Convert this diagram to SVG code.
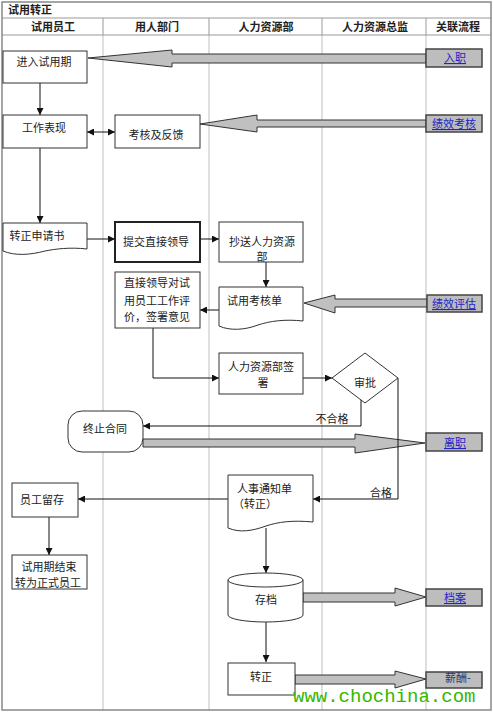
<svg xmlns="http://www.w3.org/2000/svg" width="493" height="712" viewBox="0 0 493 712">
<defs>
<style>
.t{font-family:"Noto Sans CJK SC","Liberation Sans",sans-serif;font-size:11px;fill:#222}
.h{font-family:"Noto Sans CJK SC","Liberation Sans",sans-serif;font-size:11px;font-weight:bold;fill:#222}
.box{fill:#fff;stroke:#333;stroke-width:1}
.conn{fill:none;stroke:#111;stroke-width:1}
.block{fill:#c0c0c0;stroke:#333;stroke-width:1}
.rel{fill:#bdbdbd;stroke:#444;stroke-width:1.5}
.lnk{font-family:"Noto Sans CJK SC","Liberation Sans",sans-serif;font-size:11px;fill:#2323c8;text-decoration:underline}
.lane{stroke:#d4d4d4;stroke-width:1.5}
.hl{stroke:#999;stroke-width:1}
</style>
<marker id="ah" viewBox="0 0 8 8" refX="8" refY="4" markerWidth="7" markerHeight="7" markerUnits="userSpaceOnUse" orient="auto-start-reverse">
<path d="M0,0 L8,4 L0,8 Z" fill="#111"/>
</marker>
</defs>
<rect x="0" y="0" width="493" height="712" fill="#fff"/>

<g id="frame">
<line class="lane" x1="103" y1="35" x2="103" y2="710"/>
<line class="lane" x1="209" y1="35" x2="209" y2="710"/>
<line class="lane" x1="322" y1="35" x2="322" y2="710"/>
<line class="lane" x1="426" y1="35" x2="426" y2="710"/>
<line class="hl" x1="103" y1="18" x2="103" y2="35"/>
<line class="hl" x1="209" y1="18" x2="209" y2="35"/>
<line class="hl" x1="322" y1="18" x2="322" y2="35"/>
<line class="hl" x1="426" y1="18" x2="426" y2="35"/>
<line class="hl" x1="2" y1="18" x2="491" y2="18"/>
<line class="hl" x1="2" y1="35" x2="491" y2="35"/>
<rect x="2" y="2" width="489" height="708" fill="none" stroke="#888" stroke-width="1.5"/>
<text class="h" x="8" y="14">试用转正</text>
<text class="h" x="53" y="31" text-anchor="middle">试用员工</text>
<text class="h" x="157" y="31" text-anchor="middle">用人部门</text>
<text class="h" x="266" y="31" text-anchor="middle">人力资源部</text>
<text class="h" x="375" y="31" text-anchor="middle">人力资源总监</text>
<text class="h" x="458" y="31" text-anchor="middle">关联流程</text>
</g>

<g id="connectors">
<polygon class="block" points="426,54 172,54 172,50 88,58 172,67 172,63 426,63"/>
<polygon class="block" points="426,120 257,120 257,115 200,124 257,132 257,127 426,127"/>
<polygon class="block" points="427,299 335,299 335,295 304,303 335,313 335,307 427,307"/>
<polygon class="block" points="143,439 355,439 355,434 425,443 355,453 355,447 143,447"/>
<polygon class="block" points="303,593 395,593 395,588 426,597 395,606 395,602 303,602"/>
<polygon class="block" points="295,675 395,675 395,671 426,679 395,688 395,684 295,684"/>
<path class="conn" d="M40,83 V115" marker-end="url(#ah)"/>
<path class="conn" d="M87,132 H115" marker-start="url(#ah)" marker-end="url(#ah)"/>
<path class="conn" d="M40,148 V223" marker-end="url(#ah)"/>
<path class="conn" d="M87,239 H115" marker-end="url(#ah)"/>
<path class="conn" d="M200,239 H219" marker-end="url(#ah)"/>
<path class="conn" d="M266,262 V287" marker-end="url(#ah)"/>
<path class="conn" d="M219,310 H200" marker-end="url(#ah)"/>
<path class="conn" d="M153,328 V378 H219" marker-end="url(#ah)"/>
<path class="conn" d="M303,378 H332" marker-end="url(#ah)"/>
<path class="conn" d="M361,400 V426 H143" marker-end="url(#ah)"/>
<path class="conn" d="M398,378 V499 H313" marker-end="url(#ah)"/>
<path class="conn" d="M228,499 H78" marker-end="url(#ah)"/>
<path class="conn" d="M49,517 V555" marker-end="url(#ah)"/>
<path class="conn" d="M266,528 V573" marker-end="url(#ah)"/>
<path class="conn" d="M266,622 V662" marker-end="url(#ah)"/>
<text class="t" x="332" y="423" text-anchor="middle">不合格</text>
<text class="t" x="381" y="497" text-anchor="middle">合格</text>
</g>

<g id="n-enter">
<rect class="box" x="3" y="51" width="84" height="32"/>
<text class="t" x="44" y="66" text-anchor="middle">进入试用期</text>
</g>
<g id="n-perf">
<rect class="box" x="3" y="115" width="84" height="33"/>
<text class="t" x="44" y="132" text-anchor="middle">工作表现</text>
</g>
<g id="n-review">
<rect class="box" x="115" y="115" width="85" height="33"/>
<text class="t" x="156" y="139" text-anchor="middle">考核及反馈</text>
</g>
<g id="n-apply">
<path class="box" d="M3,223 H87 V249 C70,247 55,249 45,251 C30,255 15,256 3,251 Z"/>
<text class="t" x="37" y="240" text-anchor="middle">转正申请书</text>
</g>
<g id="n-submit">
<rect x="115" y="222" width="85" height="40" fill="#fff" stroke="#222" stroke-width="2"/>
<text class="t" x="156" y="246" text-anchor="middle">提交直接领导</text>
</g>
<g id="n-copy">
<rect class="box" x="219" y="222" width="84" height="40"/>
<text class="t" x="262" y="246" text-anchor="middle">抄送人力资源</text>
<text class="t" x="262" y="261" text-anchor="middle">部</text>
</g>
<g id="n-form">
<path class="box" d="M219,287 H303 V321 C285,319 270,321 258,325 C245,330 230,331 219,326 Z"/>
<text class="t" x="227" y="305">试用考核单</text>
</g>
<g id="n-leader">
<rect class="box" x="115" y="272" width="85" height="56"/>
<text class="t" x="157" y="287" text-anchor="middle">直接领导对试</text>
<text class="t" x="157" y="305" text-anchor="middle">用员工工作评</text>
<text class="t" x="157" y="321" text-anchor="middle">价，签署意见</text>
</g>
<g id="n-hrsign">
<rect class="box" x="219" y="353" width="84" height="41"/>
<text class="t" x="261" y="371" text-anchor="middle">人力资源部签</text>
<text class="t" x="263" y="387" text-anchor="middle">署</text>
</g>
<g id="n-approve">
<polygon class="box" points="365,353 398,378 365,403 332,378"/>
<text class="t" x="365" y="387" text-anchor="middle">审批</text>
</g>
<g id="n-terminate">
<rect class="box" x="68" y="411" width="75" height="41" rx="14" ry="14"/>
<text class="t" x="105" y="433" text-anchor="middle">终止合同</text>
</g>
<g id="n-notice">
<path class="box" d="M228,475 H313 V522 C292,520 278,522 266,526 C252,531 240,533 228,528 Z"/>
<text class="t" x="237" y="493">人事通知单</text>
<text class="t" x="233" y="508">（转正）</text>
</g>
<g id="n-keep">
<rect class="box" x="12" y="483" width="66" height="34"/>
<text class="t" x="20" y="504">员工留存</text>
</g>
<g id="n-end">
<rect class="box" x="12" y="555" width="75" height="34"/>
<text class="t" x="49" y="571" text-anchor="middle">试用期结束</text>
<text class="t" x="48" y="587" text-anchor="middle">转为正式员工</text>
</g>
<g id="n-archive">
<path class="box" d="M228,580 A37.5,7 0 0 1 303,580 V615 A37.5,7 0 0 1 228,615 Z"/>
<path class="box" d="M228,580 A37.5,7 0 0 0 303,580" fill="none"/>
<text class="t" x="266" y="604" text-anchor="middle">存档</text>
</g>
<g id="n-regular">
<rect class="box" x="228" y="663" width="67" height="32"/>
<text class="t" x="261" y="681" text-anchor="middle">转正</text>
</g>

<g id="r-entry">
<rect class="rel" x="426" y="49" width="56" height="18"/>
<text class="lnk" x="455" y="62" text-anchor="middle">入职</text>
</g>
<g id="r-perfcheck">
<rect class="rel" x="426" y="115" width="56" height="17"/>
<text class="lnk" x="454" y="128" text-anchor="middle">绩效考核</text>
</g>
<g id="r-perfeval">
<rect class="rel" x="427" y="295" width="55" height="17"/>
<text class="lnk" x="454" y="308" text-anchor="middle">绩效评估</text>
</g>
<g id="r-leave">
<rect class="rel" x="426" y="433" width="56" height="18"/>
<text class="lnk" x="455" y="447" text-anchor="middle">离职</text>
</g>
<g id="r-file">
<rect class="rel" x="426" y="589" width="56" height="17"/>
<text class="lnk" x="455" y="602" text-anchor="middle">档案</text>
</g>
<g id="r-salary">
<rect class="rel" x="426" y="672" width="56" height="16"/>
<text class="t" x="458" y="682" text-anchor="middle" style="fill:#34346a">薪酬-</text>
</g>

<text x="293" y="702" style="font-family:'Liberation Mono',monospace;font-size:19px;fill:#36b800">www.chochina.com</text>
</svg>
